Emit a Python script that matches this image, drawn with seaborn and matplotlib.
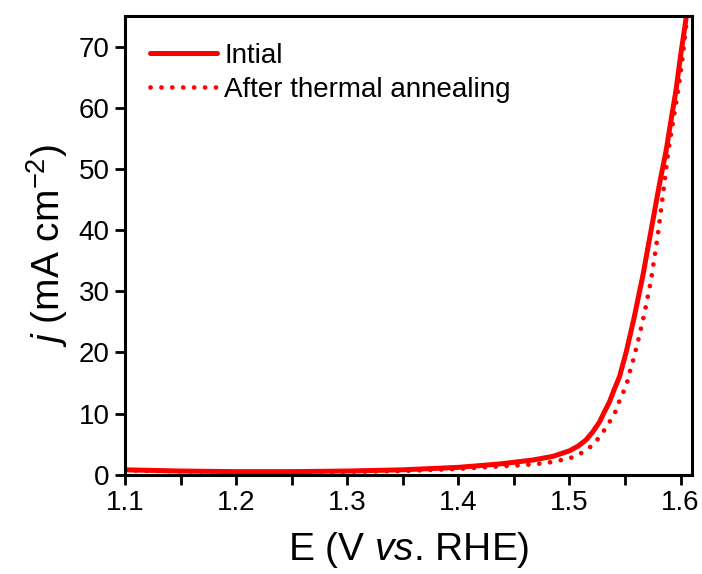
import matplotlib
matplotlib.use("Agg")
import matplotlib.pyplot as plt
import seaborn as sns
import pandas as pd
from matplotlib.ticker import MultipleLocator

# Curvas de polarização (E em V vs. RHE, j em mA cm-2)
E_inicial = [1.100, 1.150, 1.200, 1.250, 1.300, 1.350, 1.400, 1.437, 1.467,
             1.485, 1.500, 1.508, 1.515, 1.521, 1.527, 1.531, 1.536, 1.540,
             1.545, 1.551, 1.558, 1.566, 1.573, 1.581, 1.587, 1.591, 1.596,
             1.600, 1.605]
j_inicial = [0.8, 0.6, 0.5, 0.5, 0.6, 0.8, 1.2, 1.75, 2.4,
             3.0, 3.9, 4.7, 5.7, 7.0, 8.6, 10.1, 11.9, 13.8,
             16.0, 20.0, 25.5, 32.5, 39.5, 47.5, 53.0, 57.5, 63.0,
             68.5, 74.7]

E_recozido = [1.100, 1.200, 1.300, 1.350, 1.400, 1.440, 1.460, 1.479, 1.4985,
              1.507, 1.5135, 1.5225, 1.5285, 1.533, 1.5375, 1.542, 1.545,
              1.5485, 1.5524, 1.5546, 1.557, 1.5614, 1.5674, 1.5734, 1.5794,
              1.5845, 1.589, 1.593, 1.598, 1.602, 1.606]
j_recozido = [0.7, 0.4, 0.45, 0.6, 0.95, 1.4, 1.6, 1.9, 2.6,
              3.1, 3.9, 5.0, 6.7, 7.6, 9.1, 10.5, 12.1,
              13.5, 15.4, 17.0, 18.5, 21.6, 26.3, 31.8, 39.0,
              46.3, 53.0, 57.5, 63.0, 68.5, 75.0]

rotulos = ["Intial", "After thermal annealing"]

sns.set_theme(style="ticks")
plt.rcParams['font.family'] = ['Liberation Sans', 'DejaVu Sans']
plt.rcParams['mathtext.fontset'] = 'custom'
plt.rcParams['mathtext.rm'] = 'Liberation Sans'
plt.rcParams['mathtext.it'] = 'Liberation Sans:italic'
plt.rcParams['text.color'] = 'black'
plt.rcParams['axes.labelcolor'] = 'black'
plt.rcParams['xtick.color'] = 'black'
plt.rcParams['ytick.color'] = 'black'

fig = plt.figure(figsize=(7.02, 5.74), dpi=100)
ax = fig.add_axes([0.178, 0.173, 0.8073, 0.799])

df1 = pd.DataFrame({'E': E_inicial, 'j': j_inicial})
df2 = pd.DataFrame({'E': E_recozido, 'j': j_recozido})

sns.lineplot(data=df1, x='E', y='j', ax=ax, color='#ff0000', lw=3.6,
             sort=False, label=rotulos[0])
sns.lineplot(data=df2, x='E', y='j', ax=ax, color='#ff0000', lw=3.4,
             sort=False, label=rotulos[1], linestyle=(0, (0.01, 2.3)),
             dash_capstyle='round')

ax.set_xlim(1.1, 1.61)
ax.set_ylim(0, 75)
ax.xaxis.set_major_locator(MultipleLocator(0.1))
ax.xaxis.set_minor_locator(MultipleLocator(0.05))
ax.yaxis.set_major_locator(MultipleLocator(10))

for s in ax.spines.values():
    s.set_visible(True)
    s.set_linewidth(2.2)
    s.set_color('black')

ax.tick_params(axis='both', which='both', direction='out', length=7,
               width=2.0, color='black', labelsize=20, pad=4,
               top=False, right=False)

ax.set_xlabel(r"E (V $\mathit{vs}$. RHE)", fontsize=28, labelpad=10)
ax.set_ylabel(r"$j$ (mA cm$^{-2}$)", fontsize=28, labelpad=6)

leg = ax.legend(loc='upper left', bbox_to_anchor=(0.045, 0.941), frameon=False,
                fontsize=20, handlelength=2.4, handletextpad=0.25,
                labelspacing=0.28, borderpad=0, borderaxespad=0)
lh = leg.get_lines()
lh[0].set_linewidth(3.6)
lh[1].set_linewidth(3.4)

fig.savefig("out.png", dpi=100)
